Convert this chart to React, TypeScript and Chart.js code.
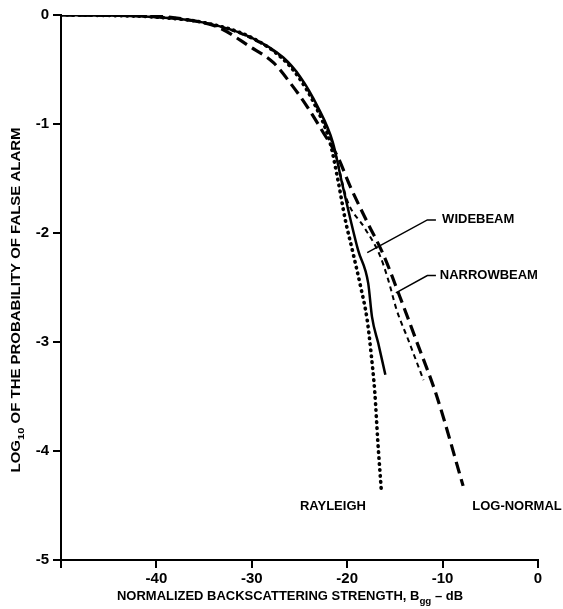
import React, { useEffect, useRef } from "react";
import { Chart, registerables } from "chart.js";

Chart.register(...registerables);

// ---- data ----
const xTickValues = [-40, -30, -20, -10, 0];
const yTickValues = [0, -1, -2, -3, -4, -5];

const widebeamX = [-50, -45, -40, -35, -30.2, -26.7, -24.9, -23.1, -21.5, -20.6, -19.7, -18.85, -17.8, -17.4, -16.75, -16.0];
const widebeamY = [0, -0.005, -0.02, -0.07, -0.2, -0.39, -0.57, -0.84, -1.17, -1.52, -1.86, -2.16, -2.46, -2.77, -3.01, -3.3];

const narrowbeamX = [-50, -45, -40, -35, -30.2, -26.7, -24.9, -23.1, -21.4, -20.0, -18.2, -16.6, -15.7, -14.8, -13.6, -12.0];
const narrowbeamY = [0, -0.005, -0.02, -0.07, -0.21, -0.4, -0.58, -0.86, -1.22, -1.7, -1.95, -2.2, -2.43, -2.71, -2.98, -3.35];

const rayleighX = [-50, -45, -40, -35, -30.2, -26.9, -25.1, -23.3, -21.8, -21.0, -20.2, -19.4, -18.6, -17.9, -17.5, -17.1, -16.8, -16.4];
const rayleighY = [0, -0.005, -0.02, -0.07, -0.2, -0.39, -0.57, -0.84, -1.17, -1.5, -1.88, -2.18, -2.49, -2.8, -3.1, -3.47, -3.9, -4.39];

const lognormalX = [-50, -45, -40, -37, -33.6, -30.2, -27.7, -26.0, -24.2, -22.5, -21.0, -19.7, -17.9, -16.2, -14.5, -12.7, -10.6, -7.85];
const lognormalY = [0, -0.003, -0.01, -0.04, -0.11, -0.29, -0.44, -0.62, -0.84, -1.08, -1.3, -1.57, -1.9, -2.2, -2.58, -3.0, -3.5, -4.32];

// annotation labels (data coordinates)
const labelTexts = ["WIDEBEAM", "NARROWBEAM", "RAYLEIGH", "LOG-NORMAL"];
const labelX = [-10.05, -10.3, -21.5, -2.2];
const labelY = [-1.88, -2.39, -4.51, -4.51];
const labelAlign = ["left", "left", "center", "center"];
// leader lines: [x0,y0,x1,y1,x2,y2]
const leaderWide = [-17.9, -2.18, -11.6, -1.88, -10.7, -1.88];
const leaderNarrow = [-14.9, -2.55, -11.6, -2.39, -10.7, -2.39];

const FONT = "'Liberation Sans', Arial, Helvetica, sans-serif";

function pts(xs: number[], ys: number[]) {
  return xs.map((x, i) => ({ x, y: ys[i] }));
}

function drawSubText(
  ctx: CanvasRenderingContext2D,
  parts: { t: string; sub?: boolean }[],
  size: number,
  target: number
) {
  const main = `bold ${size}px ${FONT}`;
  const sub = `bold ${Math.round(size * 0.72)}px ${FONT}`;
  let w = 0;
  const widths = parts.map((p) => {
    ctx.font = p.sub ? sub : main;
    const mw = ctx.measureText(p.t).width;
    w += mw;
    return mw;
  });
  const sx = target / w;
  ctx.save();
  ctx.scale(sx, 1);
  let x = -w / 2;
  ctx.textAlign = "left";
  ctx.textBaseline = "middle";
  parts.forEach((p, i) => {
    ctx.font = p.sub ? sub : main;
    ctx.fillText(p.t, x, p.sub ? size * 0.35 : 0);
    x += widths[i];
  });
  ctx.restore();
}

const overlayPlugin = {
  id: "overlay",
  afterDraw(chart: any) {
    const ctx: CanvasRenderingContext2D = chart.ctx;
    const xs = chart.scales.x;
    const ys = chart.scales.y;
    ctx.save();
    ctx.fillStyle = "#000";
    ctx.strokeStyle = "#000";

    // y axis title
    ctx.save();
    ctx.translate(17, 300);
    ctx.rotate(-Math.PI / 2);
    drawSubText(
      ctx,
      [{ t: "LOG" }, { t: "10", sub: true }, { t: " OF THE PROBABILITY OF FALSE ALARM" }],
      12,
      345
    );
    ctx.restore();

    // x axis title
    ctx.save();
    ctx.translate(290, 597);
    drawSubText(
      ctx,
      [{ t: "NORMALIZED BACKSCATTERING STRENGTH, B" }, { t: "gg", sub: true }, { t: " \u2013 dB" }],
      12,
      346
    );
    ctx.restore();

    // leader lines
    ctx.lineWidth = 1.5;
    [leaderWide, leaderNarrow].forEach((l) => {
      ctx.beginPath();
      ctx.moveTo(xs.getPixelForValue(l[0]), ys.getPixelForValue(l[1]));
      ctx.lineTo(xs.getPixelForValue(l[2]), ys.getPixelForValue(l[3]));
      ctx.lineTo(xs.getPixelForValue(l[4]), ys.getPixelForValue(l[5]));
      ctx.stroke();
    });

    // labels
    ctx.font = `bold 13px ${FONT}`;
    ctx.textBaseline = "middle";
    labelTexts.forEach((t, i) => {
      ctx.textAlign = labelAlign[i] as CanvasTextAlign;
      ctx.fillText(t, xs.getPixelForValue(labelX[i]), ys.getPixelForValue(labelY[i]));
    });
    ctx.restore();
  },
};

export default function App() {
  const ref = useRef<HTMLCanvasElement>(null);
  useEffect(() => {
    if (!ref.current) return;
    const tickFont = { family: FONT, size: 15, weight: "bold" as const };
    const chart = new Chart(ref.current, {
      type: "scatter",
      data: {
        datasets: [
          {
            label: "Widebeam",
            data: pts(widebeamX, widebeamY),
            showLine: true,
            borderColor: "#000",
            borderWidth: 2.5,
            pointRadius: 0,
            cubicInterpolationMode: "monotone",
          },
          {
            label: "Narrowbeam",
            data: pts(narrowbeamX, narrowbeamY),
            showLine: true,
            borderColor: "#000",
            borderWidth: 2,
            borderDash: [5, 4],
            pointRadius: 0,
            cubicInterpolationMode: "monotone",
          },
          {
            label: "Rayleigh",
            data: pts(rayleighX, rayleighY),
            showLine: true,
            borderColor: "#000",
            borderWidth: 3.6,
            borderDash: [0.5, 5.5],
            borderCapStyle: "round",
            pointRadius: 0,
            cubicInterpolationMode: "monotone",
          },
          {
            label: "Log-normal",
            data: pts(lognormalX, lognormalY),
            showLine: true,
            borderColor: "#000",
            borderWidth: 3.2,
            borderDash: [12, 6],
            pointRadius: 0,
            cubicInterpolationMode: "monotone",
          },
        ],
      },
      options: {
        animation: false,
        responsive: false,
        devicePixelRatio: 1,
        layout: { padding: { top: 15, right: 25, left: 0, bottom: 0 } },
        plugins: { legend: { display: false }, tooltip: { enabled: false } },
        scales: {
          x: {
            type: "linear",
            min: -50,
            max: 0,
            afterBuildTicks: (s: any) => {
              s.ticks = [-50, ...xTickValues].map((v) => ({ value: v }));
            },
            afterFit: (s: any) => {
              s.height = 49;
            },
            ticks: {
              color: "#000",
              font: tickFont,
              padding: 2,
              maxRotation: 0,
              callback: (v: any) => (xTickValues.includes(Number(v)) ? String(v) : ""),
            },
            grid: { drawOnChartArea: false, drawTicks: true, tickLength: 8, color: "#000", lineWidth: 2 },
            border: { display: true, color: "#000", width: 2 },
          },
          y: {
            type: "linear",
            min: -5,
            max: 0,
            afterBuildTicks: (s: any) => {
              s.ticks = yTickValues.map((v) => ({ value: v }));
            },
            afterFit: (s: any) => {
              s.width = 61;
            },
            ticks: {
              color: "#000",
              font: tickFont,
              padding: 4,
              callback: (v: any) => String(v),
            },
            grid: { drawOnChartArea: false, drawTicks: true, tickLength: 8, color: "#000", lineWidth: 2 },
            border: { display: true, color: "#000", width: 2 },
          },
        },
      },
      plugins: [overlayPlugin],
    } as any);
    return () => chart.destroy();
  }, []);
  return (
    <div style={{ position: "fixed", left: 0, top: 0, width: 563, height: 609, background: "#fff" }}>
      <canvas ref={ref} width={563} height={609} style={{ width: 563, height: 609, display: "block" }} />
    </div>
  );
}
